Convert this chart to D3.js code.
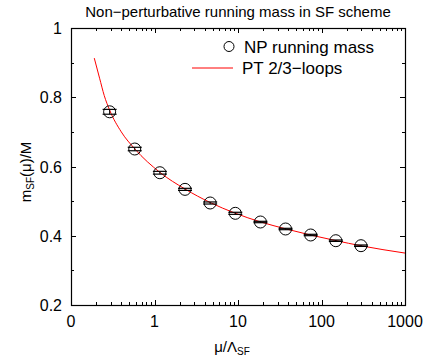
<!DOCTYPE html>
<html><head><meta charset="utf-8">
<script src="https://cdn.jsdelivr.net/npm/d3@7"></script>
<style>body{margin:0;background:#fff}svg{display:block;font-family:"Liberation Sans",Arial,sans-serif}</style>
</head><body>
<svg id="c" width="423" height="360"></svg>
<script>
// Data
const muValues   = [0.29, 0.58, 1.16, 2.32, 4.64, 9.28, 18.56, 37.1, 74.2, 148.5, 297];
const massValues = [0.758, 0.6505, 0.582, 0.534, 0.4946, 0.4648, 0.4397, 0.4195, 0.4022, 0.3857, 0.3713];
const massErrors = [0.007, 0.005, 0.004, 0.003, 0.003, 0.003, 0.002, 0.002, 0.002, 0.002, 0.002];
const ptMu   = [0.19, 0.22, 0.25, 0.29, 0.4, 0.58, 1.16, 2.32, 4.64, 9.28, 18.56, 37.1, 74.2, 148.5, 297, 1000];
const ptMass = [0.913, 0.855, 0.805, 0.763, 0.700, 0.651, 0.583, 0.535, 0.496, 0.465, 0.440, 0.420, 0.402, 0.386, 0.371, 0.350];
const xTickValues = [0.1, 1, 10, 100, 1000];
const xTickLabels = ["0", "1", "10", "100", "1000"];
const yTickValues = [0.2, 0.4, 0.6, 0.8, 1.0];
const yTickLabels = ["0.2", "0.4", "0.6", "0.8", "1"];

const svg = d3.select("#c");
const L = 71, R = 405, T = 28, B = 305;
const x = d3.scaleLog().domain([0.1, 1000]).range([L, R]);
const y = d3.scaleLinear().domain([0.2, 1.0]).range([B, T]);

// minor ticks
const xMinor = [];
for (let d = 0.1; d < 1000; d *= 10) for (let k = 2; k <= 9; k++) xMinor.push(d * k);
const yMinor = [0.3, 0.5, 0.7, 0.9];

const g = svg.append("g");
const tick = (x1, y1, x2, y2) => g.append("line").attr("x1", x1).attr("y1", y1).attr("x2", x2).attr("y2", y2).attr("stroke", "#000").attr("stroke-width", 1);
xMinor.forEach(v => { const px = Math.round(x(v)) + 0.5; tick(px, B, px, B - 3); tick(px, T, px, T + 3); });
xTickValues.forEach(v => { const px = Math.round(x(v)) + 0.5; tick(px, B, px, B - 5); tick(px, T, px, T + 5); });
yMinor.forEach(v => { const py = Math.round(y(v)) + 0.5; tick(L, py, L + 3, py); tick(R, py, R - 3, py); });
yTickValues.forEach(v => { const py = Math.round(y(v)) + 0.5; tick(L, py, L + 5, py); tick(R, py, R - 5, py); });

// frame
svg.append("rect").attr("x", L + 0.5).attr("y", T + 0.5).attr("width", R - L).attr("height", B - T)
  .attr("fill", "none").attr("stroke", "#000").attr("stroke-width", 1.2);

// tick labels
xTickValues.forEach((v, i) => svg.append("text").attr("x", x(v)).attr("y", 327).attr("text-anchor", "middle")
  .attr("font-size", 16).text(xTickLabels[i]));
yTickValues.forEach((v, i) => svg.append("text").attr("x", 62).attr("y", y(v) + 6).attr("text-anchor", "end")
  .attr("font-size", 16).text(yTickLabels[i]));

// title
svg.append("text").attr("x", 238).attr("y", 17).attr("text-anchor", "middle").attr("font-size", 15)
  .text("Non\u2212perturbative running mass in SF scheme");

// axis titles
const xt = svg.append("text").attr("x", 232).attr("y", 352).attr("text-anchor", "middle").attr("font-size", 15);
xt.append("tspan").text("\u03bc/\u039b");
xt.append("tspan").attr("font-size", 10).attr("dy", 3).text("SF");
const yt = svg.append("text").attr("transform", "translate(31,172) rotate(-90)").attr("text-anchor", "middle").attr("font-size", 15);
yt.append("tspan").text("m");
yt.append("tspan").attr("font-size", 10).attr("dy", 3).text("SF");
yt.append("tspan").attr("dy", -3).text("(\u03bc)/M");

// PT curve
const line = d3.line().x(d => x(d[0])).y(d => y(d[1])).curve(d3.curveMonotoneX);
svg.append("path").datum(ptMu.map((m, i) => [m, ptMass[i]])).attr("d", line)
  .attr("fill", "none").attr("stroke", "#ff0000").attr("stroke-width", 1);

// data points with error bars
const pts = svg.append("g");
muValues.forEach((m, i) => {
  const cx = x(m), cy = y(massValues[i]);
  const y1 = y(massValues[i] + massErrors[i]), y2 = y(massValues[i] - massErrors[i]);
  const w = 7;
  pts.append("line").attr("x1", cx).attr("x2", cx).attr("y1", y1).attr("y2", y2).attr("stroke", "#000").attr("stroke-width", 1);
  pts.append("line").attr("x1", cx - w).attr("x2", cx + w).attr("y1", y1).attr("y2", y1).attr("stroke", "#000").attr("stroke-width", 1.2);
  pts.append("line").attr("x1", cx - w).attr("x2", cx + w).attr("y1", y2).attr("y2", y2).attr("stroke", "#000").attr("stroke-width", 1.2);
  pts.append("circle").attr("cx", cx).attr("cy", cy).attr("r", 6).attr("fill", "none").attr("stroke", "#000").attr("stroke-width", 1);
});

// legend
svg.append("circle").attr("cx", 229).attr("cy", 46.5).attr("r", 5).attr("fill", "none").attr("stroke", "#000").attr("stroke-width", 1);
svg.append("text").attr("x", 244).attr("y", 52.5).attr("font-size", 17).text("NP running mass");
svg.append("line").attr("x1", 192).attr("x2", 233).attr("y1", 68).attr("y2", 68).attr("stroke", "#ff0000").attr("stroke-width", 1);
svg.append("text").attr("x", 242).attr("y", 73.5).attr("font-size", 17).text("PT 2/3\u2212loops");
</script>
</body></html>
